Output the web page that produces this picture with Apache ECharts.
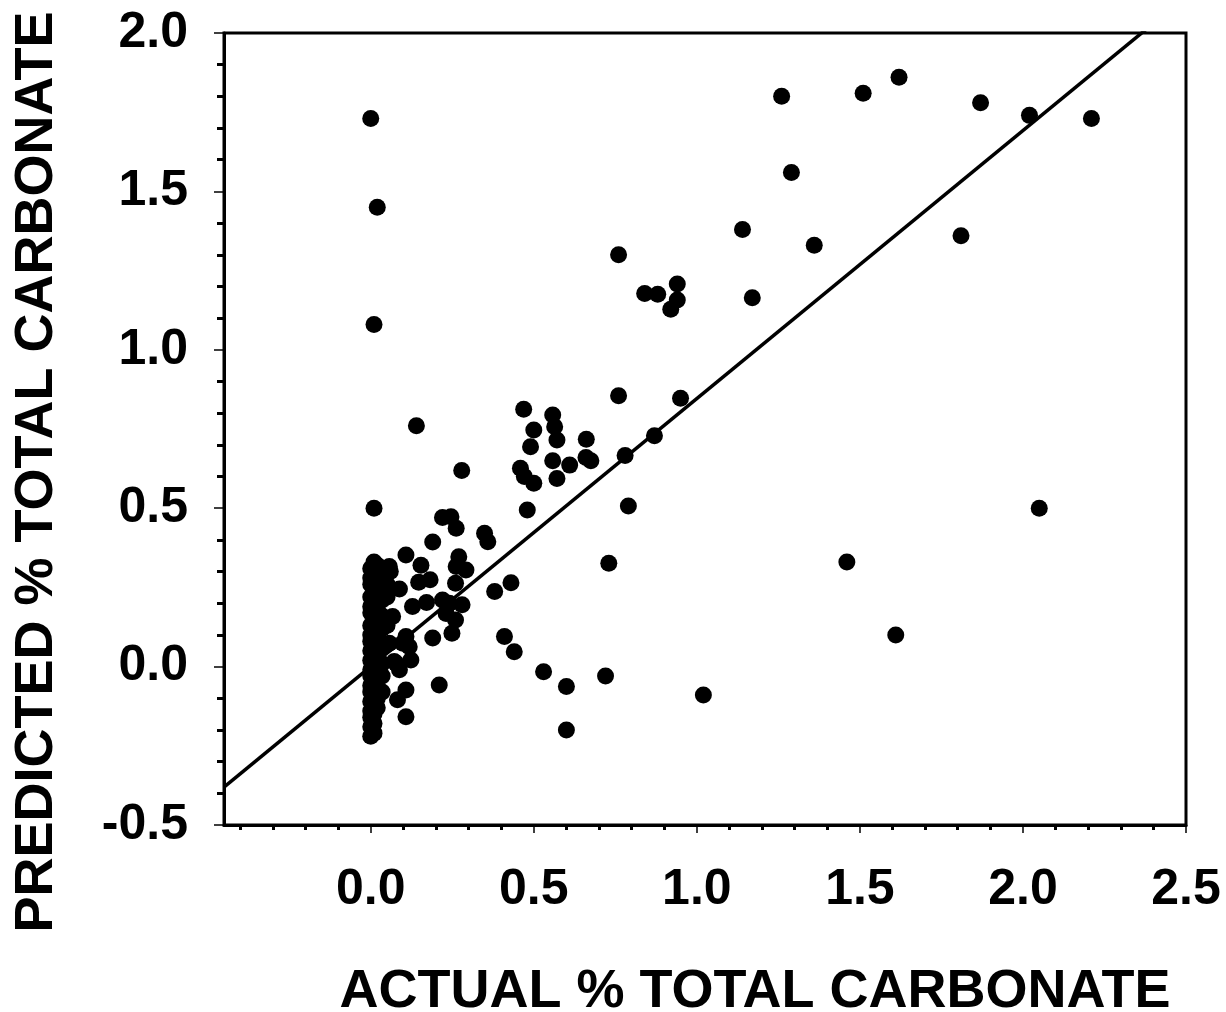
<!DOCTYPE html>
<html>
<head>
<meta charset="utf-8">
<script src="https://cdn.jsdelivr.net/npm/echarts@6/dist/echarts.min.js"></script>
<style>html,body{margin:0;padding:0;background:#fff;}#c{width:1226px;height:1012px;}</style>
</head>
<body>
<div id="c"></div>
<script>
// ---- Data ----
const xTitle = 'ACTUAL % TOTAL CARBONATE';
const yTitle = 'PREDICTED % TOTAL CARBONATE';
const xMajorTicks = [0, 0.5, 1.0, 1.5, 2.0, 2.5];
const xMinorTicks = [-0.4, -0.3, -0.2, -0.1, 0.1, 0.2, 0.3, 0.4, 0.6, 0.7, 0.8, 0.9, 1.1, 1.2, 1.3, 1.4, 1.6, 1.7, 1.8, 1.9, 2.1, 2.2, 2.3, 2.4];
const yTickLabels = [-0.5, 0.0, 0.5, 1.0, 1.5, 2.0];

// dense column of samples near actual = 0
const colX0 = [0.00, 0.00, 0.00, 0.00, 0.00, 0.00, 0.00, 0.00, 0.00, 0.00, 0.00, 0.00, 0.00, 0.00, 0.00, 0.00, 0.00, 0.00, 0.00, 0.00];
const colY0 = [0.31, 0.28, 0.26, 0.22, 0.19, 0.17, 0.13, 0.10, 0.08, 0.05, 0.02, -0.01, -0.03, -0.06, -0.08, -0.11, -0.14, -0.16, -0.19, -0.22];
const colX1 = [0.01, 0.01, 0.01, 0.01, 0.01, 0.01, 0.01, 0.01, 0.01, 0.01, 0.01, 0.01, 0.01, 0.01, 0.01];
const colY1 = [0.33, 0.29, 0.24, 0.20, 0.15, 0.11, 0.07, 0.03, -0.02, -0.05, -0.09, -0.12, -0.15, -0.18, -0.21];
const colX2 = [0.02, 0.02, 0.02, 0.02, 0.02, 0.02, 0.02, 0.02, 0.02, 0.02, 0.02, 0.02];
const colY2 = [0.32, 0.27, 0.23, 0.18, 0.14, 0.09, 0.04, 0.00, -0.04, -0.07, -0.10, -0.13];
const colX3 = [0.035, 0.035, 0.035, 0.035, 0.035, 0.035, 0.035, 0.035, 0.035];
const colY3 = [0.30, 0.25, 0.21, 0.16, 0.12, 0.06, 0.01, -0.03, -0.08];
const colX4 = [0.05, 0.05, 0.05, 0.06, 0.057, 0.05, 0.05];
const colY4 = [0.31, 0.26, 0.22, 0.30, 0.316, 0.13, 0.07];

// remaining samples
const actual = [
  0.00, 0.02, 0.01, 0.01, 0.14,
  1.26, 1.51, 1.62, 1.87, 2.02, 2.21,
  1.29, 1.14, 1.36, 1.81, 1.17,
  0.76, 0.84, 0.88, 0.94, 0.94, 0.92,
  0.76, 0.95, 0.87, 0.78, 0.79, 0.73,
  1.46, 2.05, 1.61, 0.72, 1.02, 0.60, 0.60, 0.53, 0.44, 0.41, 0.43, 0.38,
  0.469, 0.558, 0.564, 0.50, 0.571, 0.49, 0.661, 0.558, 0.61, 0.66, 0.675,
  0.459, 0.471, 0.50, 0.571, 0.48,
  0.279, 0.22, 0.246, 0.262, 0.19, 0.349, 0.359,
  0.108, 0.154, 0.27, 0.262, 0.292,
  0.147, 0.182, 0.26, 0.088, 0.128, 0.171, 0.22, 0.241, 0.28, 0.231, 0.26, 0.249, 0.19,
  0.21, 0.108, 0.118, 0.123, 0.067, 0.108, 0.077, 0.088, 0.082, 0.108, 0.057, 0.036, 0.098, 0.072
];
const predicted = [
  1.73, 1.45, 1.08, 0.50, 0.76,
  1.80, 1.81, 1.86, 1.78, 1.74, 1.73,
  1.56, 1.38, 1.33, 1.36, 1.164,
  1.30, 1.178, 1.175, 1.208, 1.157, 1.128,
  0.855, 0.847, 0.729, 0.666, 0.507, 0.326,
  0.33, 0.50, 0.10, -0.03, -0.09, -0.063, -0.20, -0.016, 0.047, 0.095, 0.265, 0.237,
  0.812, 0.794, 0.757, 0.747, 0.715, 0.694, 0.718, 0.65, 0.636, 0.66, 0.65,
  0.626, 0.60, 0.579, 0.594, 0.494,
  0.619, 0.471, 0.473, 0.437, 0.393, 0.421, 0.394,
  0.352, 0.32, 0.347, 0.316, 0.305,
  0.266, 0.274, 0.263, 0.245, 0.19, 0.202, 0.21, 0.20, 0.195, 0.168, 0.147, 0.105, 0.09,
  -0.058, -0.074, 0.063, 0.021, 0.158, 0.095, 0.011, -0.01, -0.105, -0.158, 0.074, 0.126, 0.074, 0.016
];

// regression line parameters
const fitSlope = 0.846;
const fitIntercept = 0.0;
const fitX = [-0.45, 2.5];

// ---- Build ----
function pairs(xs, ys) { return xs.map((x, i) => [x, ys[i]]); }
const points = [].concat(
  pairs(colX0, colY0), pairs(colX1, colY1), pairs(colX2, colY2),
  pairs(colX3, colY3), pairs(colX4, colY4), pairs(actual, predicted)
);
const fitLine = fitX.map(x => [x, fitSlope * x + fitIntercept]);

const FONT = '"Liberation Sans", Arial, Helvetica, sans-serif';
const chart = echarts.init(document.getElementById('c'), null, { renderer: 'canvas' });
chart.setOption({
  animation: false,
  backgroundColor: '#fff',
  grid: { left: 224, right: 40, top: 33, bottom: 187, containLabel: false, outerBoundsMode: 'none',
          show: true, borderColor: '#000', borderWidth: 3, backgroundColor: 'transparent' },
  xAxis: [
    {
      type: 'value', min: -0.45, max: 2.5, position: 'bottom',
      axisLine: { show: true, onZero: false, lineStyle: { color: '#000', width: 3 } },
      axisTick: { show: true, customValues: xMajorTicks, length: 8, lineStyle: { color: '#000', width: 1.5 } },
      axisLabel: { show: true, customValues: xMajorTicks, formatter: v => Number(v).toFixed(1), margin: 40, color: '#000', fontSize: 50, fontWeight: 'bold', fontFamily: FONT },
      splitLine: { show: false },
      name: xTitle, nameLocation: 'middle', nameGap: 140,
      nameTextStyle: { color: '#000', fontSize: 54, fontWeight: 'bold', fontFamily: FONT, padding: [0, 0, 0, 100] }
    },
    {
      type: 'value', min: -0.45, max: 2.5, position: 'bottom',
      axisLine: { show: false, onZero: false },
      axisTick: { show: true, customValues: xMinorTicks, length: 5, lineStyle: { color: '#000', width: 3 } },
      axisLabel: { show: false },
      splitLine: { show: false }
    }
  ],
  yAxis: [
    {
      type: 'value', min: -0.5, max: 2.0, interval: 0.5, position: 'left',
      axisLine: { show: true, onZero: false, lineStyle: { color: '#000', width: 3 } },
      axisTick: { show: true, length: 10, lineStyle: { color: '#000', width: 1.5 } },
      minorTick: { show: true, splitNumber: 5, length: 7, lineStyle: { color: '#000', width: 3 } },
      axisLabel: { formatter: v => Number(v).toFixed(1), margin: 36, color: '#000', fontSize: 50, fontWeight: 'bold', fontFamily: FONT },
      splitLine: { show: false }, minorSplitLine: { show: false },
      name: yTitle, nameLocation: 'middle', nameGap: 160,
      nameTextStyle: { color: '#000', fontSize: 54, fontWeight: 'bold', fontFamily: FONT, padding: [0, 86, 0, 0] }
    }
  ],
  series: [
    {
      type: 'scatter', xAxisIndex: 0, yAxisIndex: 0, data: points,
      symbol: 'circle', symbolSize: 17, itemStyle: { color: '#000', opacity: 1 }, z: 3
    },
    {
      type: 'line', xAxisIndex: 0, yAxisIndex: 0, data: fitLine, showSymbol: false, symbol: 'none',
      clip: true, lineStyle: { color: '#000', width: 3.5 }, z: 4
    }
  ]
});
</script>
</body>
</html>
